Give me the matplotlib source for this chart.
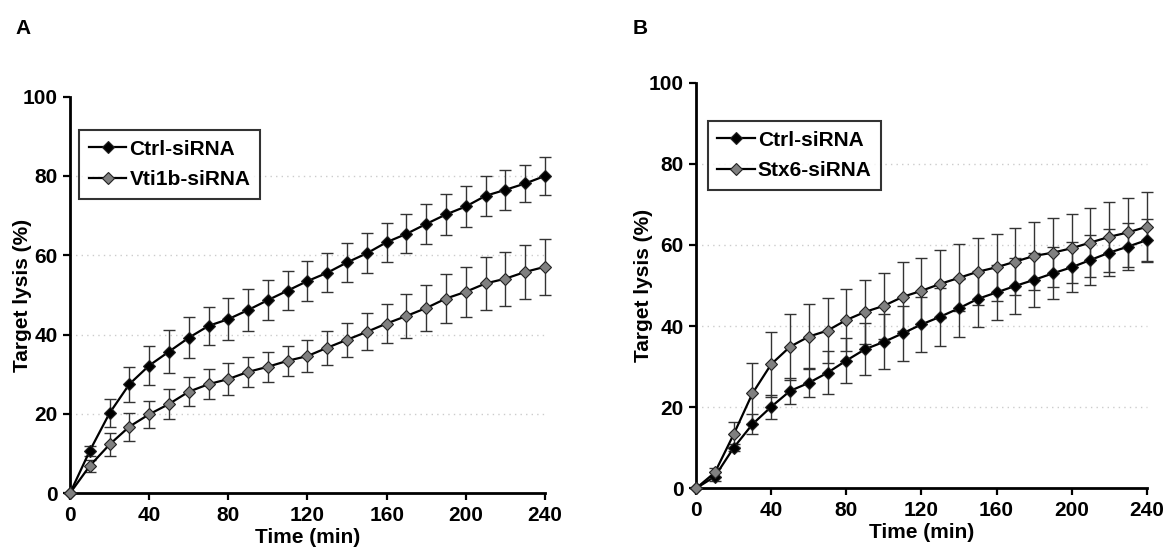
import matplotlib.pyplot as plt
import numpy as np

plt.rcParams["font.family"] = ["Liberation Sans", "DejaVu Sans"]
plt.rcParams["font.weight"] = "bold"

time_min = list(range(0, 250, 10))

# Panel A
ctrl_a = [0, 10.7, 20.2, 27.5, 32.2, 35.7, 39.2, 42.2, 43.9, 46.2, 48.7, 51.1, 53.5,
          55.6, 58.2, 60.5, 63.3, 65.4, 67.9, 70.3, 72.3, 75.0, 76.5, 78.1, 80.0]
ctrl_a_err = [0, 1.3, 3.6, 4.4, 5.0, 5.4, 5.2, 4.8, 5.3, 5.2, 5.1, 5.0, 5.1,
              4.9, 5.0, 5.0, 4.9, 4.9, 5.1, 5.1, 5.1, 5.1, 5.0, 4.7, 4.8]
vti1b_a = [0, 6.9, 12.3, 16.8, 19.9, 22.5, 25.6, 27.5, 28.8, 30.6, 31.9, 33.4, 34.6,
           36.7, 38.7, 40.7, 42.8, 44.7, 46.7, 49.1, 50.8, 52.9, 54.1, 55.8, 57.1]
vti1b_a_err = [0, 1.5, 2.8, 3.5, 3.4, 3.7, 3.6, 3.8, 4.1, 3.8, 3.8, 3.8, 4.1,
               4.3, 4.3, 4.7, 4.9, 5.5, 5.8, 6.1, 6.3, 6.6, 6.8, 6.8, 7.1]

# Panel B
ctrl_b = [0, 2.9, 10.0, 15.8, 20.1, 24.0, 26.0, 28.5, 31.5, 34.3, 36.1, 38.2, 40.4,
          42.3, 44.4, 46.7, 48.3, 49.9, 51.4, 53.0, 54.5, 56.3, 58.1, 59.6, 61.2]
ctrl_b_err = [0, 1.0, 0.8, 2.5, 3.0, 3.3, 3.6, 5.3, 5.6, 6.4, 6.8, 6.7, 6.8,
              7.2, 7.1, 7.0, 6.8, 6.9, 6.6, 6.4, 6.2, 6.2, 5.8, 5.8, 5.3]
stx6_b = [0, 3.9, 13.3, 23.4, 30.6, 34.9, 37.4, 38.9, 41.5, 43.5, 45.0, 47.2, 48.7,
          50.4, 51.9, 53.4, 54.5, 55.9, 57.3, 58.1, 59.2, 60.6, 62.0, 63.1, 64.5]
stx6_b_err = [0, 1.0, 3.1, 7.6, 8.0, 8.2, 8.1, 8.0, 7.7, 7.8, 8.2, 8.5, 8.2,
              8.4, 8.3, 8.2, 8.2, 8.2, 8.3, 8.5, 8.5, 8.6, 8.6, 8.6, 8.5]

y_ticks = [0, 20, 40, 60, 80, 100]
x_ticks = [0, 40, 80, 120, 160, 200, 240]


def draw_panel(ax, series, legend_pos, ylabel_x):
    for label, vals, errs, face in series:
        ax.errorbar(time_min, vals, yerr=errs, fmt="none", ecolor="#333333",
                    elinewidth=1.0, capsize=4.5, capthick=1.0, zorder=2)
        ax.plot(time_min, vals, color="black", lw=1.6, marker="D", markersize=6.5,
                markerfacecolor=face, markeredgecolor="#222222", markeredgewidth=0.8,
                label=label, zorder=3)
    for yv in [20, 40, 60, 80]:
        ax.axhline(yv, color="#cccccc", lw=1.0, ls=(0, (1, 3)), zorder=0)
    ax.set_xlim(0, 240)
    ax.set_ylim(0, 100)
    ax.set_xticks(x_ticks)
    ax.set_yticks(y_ticks)
    ax.spines["top"].set_visible(False)
    ax.spines["right"].set_visible(False)
    ax.spines["left"].set_linewidth(2)
    ax.spines["bottom"].set_linewidth(2)
    ax.tick_params(width=1.6, length=5, labelsize=15, pad=4)
    for lab in ax.get_xticklabels() + ax.get_yticklabels():
        lab.set_fontweight("bold")
    ax.set_xlabel("Time (min)", fontsize=15, fontweight="bold", labelpad=2)
    ax.set_ylabel("Target lysis (%)", fontsize=15, fontweight="bold")
    ax.yaxis.set_label_coords(ylabel_x, 0.5)
    for artist in ax.lines + ax.collections:
        artist.set_clip_on(False)
    leg = ax.legend(loc="upper left", bbox_to_anchor=legend_pos, frameon=True,
                    fancybox=False, edgecolor="black", fontsize=15,
                    handlelength=1.8, handletextpad=0.15, borderpad=0.45,
                    labelspacing=0.55, borderaxespad=0)
    leg.get_frame().set_linewidth(1.5)
    for t in leg.get_texts():
        t.set_fontweight("bold")


fig = plt.figure(figsize=(11.66, 5.54), dpi=100)
ax_a = fig.add_axes([0.060, 0.1096, 0.4074, 0.716])
ax_b = fig.add_axes([0.597, 0.1186, 0.3865, 0.732])

draw_panel(ax_a, [("Ctrl-siRNA", ctrl_a, ctrl_a_err, "black"),
                  ("Vti1b-siRNA", vti1b_a, vti1b_a_err, "#808080")], (0.02, 0.915), -0.08)
draw_panel(ax_b, [("Ctrl-siRNA", ctrl_b, ctrl_b_err, "black"),
                  ("Stx6-siRNA", stx6_b, stx6_b_err, "#808080")], (0.026, 0.905), -0.095)

fig.text(0.0197, 0.949, "A", fontsize=15, fontweight="bold", ha="center", va="center")
fig.text(0.549, 0.949, "B", fontsize=15, fontweight="bold", ha="center", va="center")

fig.savefig("out.png", dpi=100)
